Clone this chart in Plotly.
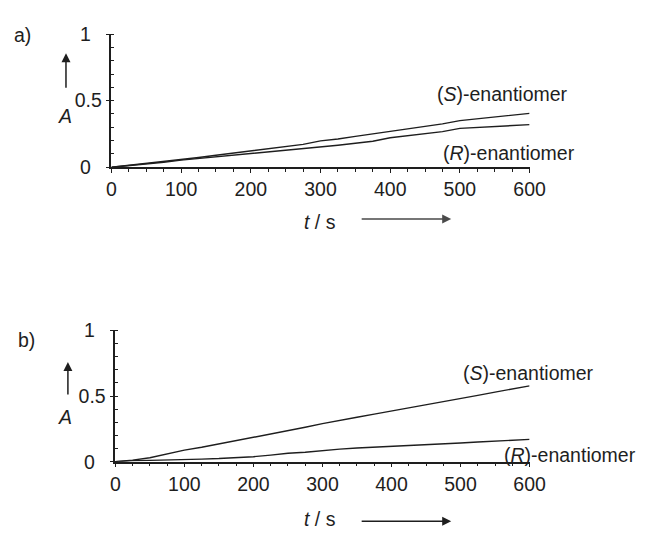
import plotly.graph_objects as go

# Reaction time (s)
t = [0, 25, 50, 75, 100, 125, 150, 175, 200, 225, 250, 275, 300,
     325, 350, 375, 400, 425, 450, 475, 500, 525, 550, 575, 600]

# Panel a) absorbance traces
a_S = [0, 0.014, 0.028, 0.042, 0.058, 0.074, 0.090, 0.106, 0.124, 0.140,
       0.156, 0.172, 0.198, 0.212, 0.232, 0.250, 0.270, 0.290, 0.306, 0.326,
       0.350, 0.364, 0.378, 0.392, 0.405]
a_R = [0, 0.012, 0.024, 0.038, 0.054, 0.066, 0.080, 0.092, 0.104, 0.116,
       0.128, 0.140, 0.153, 0.165, 0.180, 0.196, 0.222, 0.236, 0.250, 0.268,
       0.292, 0.300, 0.308, 0.314, 0.320]

# Panel b) absorbance traces
b_S = [0, 0.012, 0.030, 0.058, 0.088, 0.110, 0.135, 0.160, 0.182, 0.210,
       0.235, 0.262, 0.290, 0.312, 0.338, 0.362, 0.385, 0.410, 0.432, 0.458,
       0.482, 0.505, 0.530, 0.552, 0.577]
b_R = [0, 0.008, 0.010, 0.012, 0.016, 0.020, 0.024, 0.030, 0.038, 0.050,
       0.064, 0.072, 0.085, 0.096, 0.104, 0.110, 0.117, 0.124, 0.128, 0.132,
       0.142, 0.150, 0.156, 0.164, 0.170]

x_ticks = [0, 100, 200, 300, 400, 500, 600]
y_ticks = [0, 0.5, 1]
y_ticktext = ["0\u00a0\u00a0", "0.5", "1\u00a0\u00a0"]

W, H = 653, 536
FONT = "Liberation Sans, Arial, sans-serif"
INK = "#1e1e1e"
FS = 19.5


def px_x(p):
    return p / W


def px_y(p):
    return 1 - p / H


fig = go.Figure()

line_style = dict(color=INK, width=1.4)
for xa, ya, ys in [("x", "y", a_S), ("x", "y", a_R), ("x2", "y2", b_S), ("x2", "y2", b_R)]:
    fig.add_trace(go.Scatter(x=t, y=ys, xaxis=xa, yaxis=ya, mode="lines",
                             line=line_style, showlegend=False, hoverinfo="skip"))

xaxis_common = dict(
    range=[0, 600], tickvals=x_ticks, showline=True, linecolor=INK, linewidth=1.5,
    ticks="outside", ticklen=4, tickcolor=INK, tickwidth=1.2, showgrid=False,
    zeroline=False, tickfont=dict(family=FONT, size=FS, color=INK),
    minor=dict(dtick=25, ticks="outside", ticklen=3, tickcolor=INK, tickwidth=1, showgrid=False),
)
yaxis_common = dict(
    range=[0, 1], tickvals=y_ticks, ticktext=y_ticktext, showline=True, linecolor=INK,
    linewidth=1.5, ticks="outside", ticklen=4, tickcolor=INK, tickwidth=1.2,
    showgrid=False, zeroline=False, tickfont=dict(family=FONT, size=FS, color=INK),
    minor=dict(dtick=0.1, ticks="inside", ticklen=3, tickcolor=INK, tickwidth=1, showgrid=False),
)

fig.update_layout(
    width=W, height=H,
    margin=dict(l=0, r=0, t=0, b=0),
    paper_bgcolor="white", plot_bgcolor="white",
    xaxis=dict(domain=[px_x(110), px_x(542)], anchor="y", **xaxis_common),
    yaxis=dict(domain=[px_y(163), px_y(24)], anchor="x", **yaxis_common),
    xaxis2=dict(domain=[px_x(114), px_x(542)], anchor="y2", **xaxis_common),
    yaxis2=dict(domain=[px_y(470), px_y(333)], anchor="x2", **yaxis_common),
)

ann = []


def text(x, y, s, xanchor="center", size=FS):
    ann.append(dict(x=px_x(x), y=px_y(y), xref="paper", yref="paper", text=s,
                    showarrow=False, xanchor=xanchor, yanchor="middle",
                    font=dict(family=FONT, size=size, color=INK)))


def arrow(x0, y0, x1, y1, color=INK):
    # arrow pointing from (x0, y0) to (x1, y1), pixel coordinates
    ann.append(dict(x=px_x(x1), y=px_y(y1), xref="paper", yref="paper",
                    ax=x0 - x1, ay=y0 - y1, axref="pixel", ayref="pixel",
                    text="", showarrow=True, arrowhead=2, arrowsize=1.2,
                    arrowwidth=1.5, arrowcolor=color))


# panel letters
text(18, 25, "a)")
text(22, 343, "b)")

# y-axis quantity with upward arrow
arrow(63, 80, 63, 44)
text(62, 110, "<i>A</i>")
arrow(65, 400, 65, 366)
text(62, 423, "<i>A</i>")

# x-axis quantity with rightward arrow
text(325, 220, "<i>t</i> / s")
arrow(370, 217, 461, 217, color="#4a4a4a")
text(325, 530, "<i>t</i> / s")
arrow(370, 532, 461, 532)

# curve labels
text(444, 87, "(<i>S</i>)-enantiomer", xanchor="left")
text(451, 148, "(<i>R</i>)-enantiomer", xanchor="left")
text(471, 378, "(<i>S</i>)-enantiomer", xanchor="left")
text(514, 463, "(<i>R</i>)-enantiomer", xanchor="left")

fig.update_layout(annotations=ann)

fig.write_html("out.html")
